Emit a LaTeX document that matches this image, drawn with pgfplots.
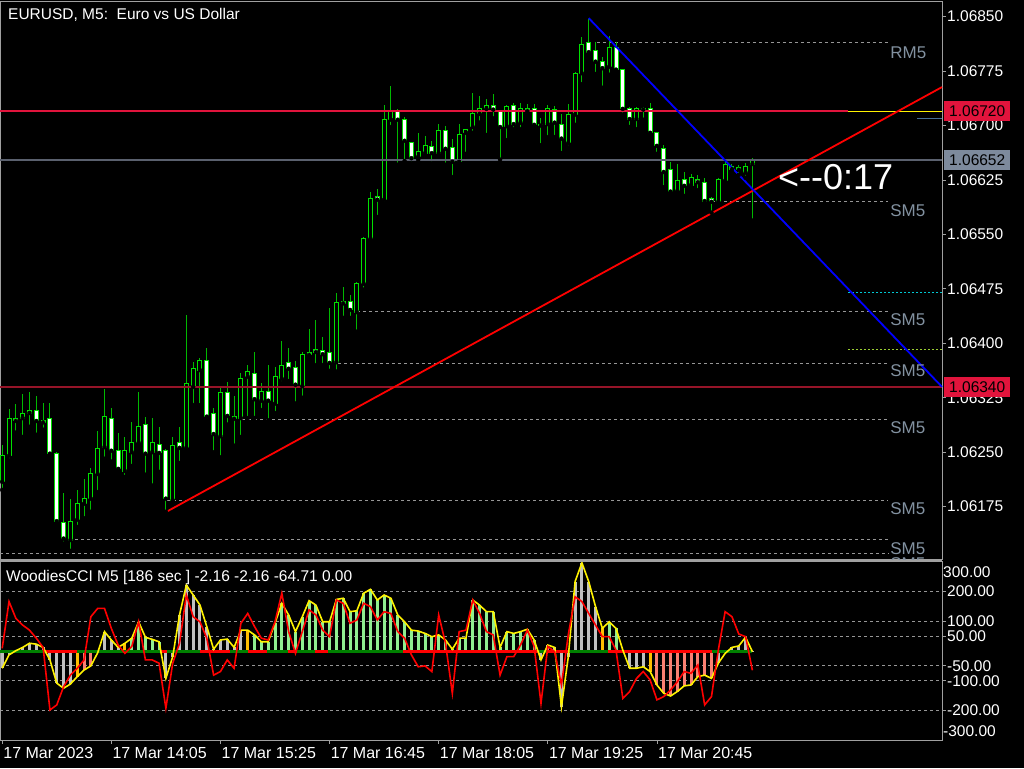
\documentclass[border=0pt]{standalone}
\usepackage{fontspec}
\setmainfont{Liberation Sans}
\usepackage{pgfplots}
\usepackage{pgfplotstable}
\pgfplotsset{compat=1.18}

\definecolor{cwick}{RGB}{0,185,0}
\definecolor{cedge}{RGB}{0,225,0}
\definecolor{crim}{RGB}{225,20,60}
\definecolor{dred}{RGB}{150,20,40}
\definecolor{bidgray}{RGB}{90,96,110}
\definecolor{bidbox}{RGB}{125,138,156}
\definecolor{dotgray}{RGB}{150,150,150}
\definecolor{smlabel}{RGB}{130,145,160}
\definecolor{framec}{RGB}{160,160,160}
\definecolor{hgray}{RGB}{192,192,192}
\definecolor{hgreen}{RGB}{144,238,144}
\definecolor{hsalmon}{RGB}{250,128,114}
\definecolor{hgold}{RGB}{255,190,0}
\definecolor{zgreen}{RGB}{0,128,0}
\definecolor{sblue}{RGB}{70,110,150}
\definecolor{ygreen}{RGB}{154,205,50}
\definecolor{cyanl}{RGB}{0,200,210}

\pgfplotsset{
  wick/.style={only marks, mark=none, forget plot,
    error bars/.cd, y dir=plus, y explicit,
    draw error bar/.code 2 args={\draw[cwick, line width=1pt] ##1 -- ##2;}},
  body/.style={only marks, mark=none, forget plot,
    error bars/.cd, y dir=plus, y explicit,
    draw error bar/.code 2 args={%
      \path ##1 coordinate (cbA); \path ##2 coordinate (cbB);
      \filldraw[draw=cedge, fill=#1, line width=1pt] ([xshift=-2pt]cbA) rectangle ([xshift=2pt]cbB);}},
}

\pgfplotstableread{
i o h l c t
0 1.06209 1.06260 1.06198 1.06245 1
1 1.06245 1.06310 1.06239 1.06296 1
2 1.06297 1.06317 1.06277 1.06293 0
3 1.06297 1.06330 1.06271 1.06304 1
4 1.06304 1.06333 1.06285 1.06307 1
5 1.06308 1.06328 1.06274 1.06293 0
6 1.06293 1.06318 1.06281 1.06291 0
7 1.06296 1.06318 1.06246 1.06248 0
8 1.06248 1.06250 1.06150 1.06155 0
9 1.06153 1.06194 1.06124 1.06131 0
10 1.06129 1.06186 1.06114 1.06155 1
11 1.06157 1.06198 1.06147 1.06180 1
12 1.06179 1.06213 1.06159 1.06186 1
13 1.06186 1.06228 1.06168 1.06221 1
14 1.06220 1.06279 1.06195 1.06255 1
15 1.06257 1.06337 1.06241 1.06299 1
16 1.06296 1.06311 1.06237 1.06252 0
17 1.06252 1.06277 1.06223 1.06227 0
18 1.06224 1.06271 1.06216 1.06252 1
19 1.06250 1.06292 1.06231 1.06264 1
20 1.06263 1.06333 1.06259 1.06286 1
21 1.06288 1.06299 1.06219 1.06248 0
22 1.06250 1.06297 1.06204 1.06263 1
23 1.06261 1.06285 1.06223 1.06249 0
24 1.06252 1.06255 1.06168 1.06186 0
25 1.06184 1.06271 1.06182 1.06259 1
26 1.06263 1.06285 1.06235 1.06256 0
27 1.06256 1.06439 1.06254 1.06344 1
28 1.06340 1.06374 1.06315 1.06365 1
29 1.06363 1.06380 1.06315 1.06377 1
30 1.06376 1.06394 1.06297 1.06299 0
31 1.06303 1.06311 1.06250 1.06275 0
32 1.06272 1.06341 1.06243 1.06332 1
33 1.06332 1.06347 1.06288 1.06300 0
34 1.06299 1.06328 1.06259 1.06296 0
35 1.06297 1.06359 1.06271 1.06352 1
36 1.06354 1.06370 1.06297 1.06361 1
37 1.06359 1.06388 1.06297 1.06323 0
38 1.06321 1.06345 1.06308 1.06333 1
39 1.06333 1.06370 1.06294 1.06321 0
40 1.06317 1.06367 1.06304 1.06354 1
41 1.06351 1.06403 1.06345 1.06370 1
42 1.06374 1.06394 1.06348 1.06365 0
43 1.06367 1.06376 1.06317 1.06343 0
44 1.06341 1.06388 1.06325 1.06385 1
45 1.06387 1.06420 1.06381 1.06384 0
46 1.06391 1.06432 1.06370 1.06388 0
47 1.06390 1.06409 1.06370 1.06385 0
48 1.06388 1.06449 1.06362 1.06373 0
49 1.06374 1.06469 1.06361 1.06456 1
50 1.06457 1.06478 1.06435 1.06455 0
51 1.06458 1.06467 1.06435 1.06446 0
52 1.06443 1.06485 1.06416 1.06483 1
53 1.06482 1.06547 1.06474 1.06544 1
54 1.06544 1.06609 1.06542 1.06600 1
55 1.06602 1.06613 1.06574 1.06598 0
56 1.06598 1.06728 1.06593 1.06708 1
57 1.06708 1.06755 1.06698 1.06719 1
58 1.06720 1.06723 1.06646 1.06708 0
59 1.06709 1.06712 1.06651 1.06679 0
60 1.06676 1.06677 1.06648 1.06655 0
61 1.06657 1.06690 1.06653 1.06664 1
62 1.06662 1.06686 1.06657 1.06672 1
63 1.06671 1.06679 1.06648 1.06662 0
64 1.06662 1.06702 1.06658 1.06693 1
65 1.06693 1.06699 1.06646 1.06668 0
66 1.06670 1.06682 1.06629 1.06650 0
67 1.06650 1.06702 1.06648 1.06688 1
68 1.06690 1.06695 1.06661 1.06694 1
69 1.06698 1.06745 1.06690 1.06717 1
70 1.06716 1.06741 1.06704 1.06724 1
71 1.06723 1.06737 1.06687 1.06727 1
72 1.06727 1.06744 1.06710 1.06722 0
73 1.06720 1.06722 1.06653 1.06698 0
74 1.06699 1.06728 1.06680 1.06726 1
75 1.06727 1.06731 1.06695 1.06702 0
76 1.06704 1.06731 1.06695 1.06724 1
77 1.06723 1.06730 1.06715 1.06720 0
78 1.06723 1.06730 1.06698 1.06701 0
79 1.06702 1.06710 1.06673 1.06700 0
80 1.06702 1.06728 1.06684 1.06724 1
81 1.06722 1.06727 1.06684 1.06704 0
82 1.06702 1.06716 1.06662 1.06682 0
83 1.06676 1.06730 1.06670 1.06715 1
84 1.06715 1.06774 1.06701 1.06771 1
85 1.06772 1.06822 1.06757 1.06811 1
86 1.06814 1.06847 1.06799 1.06801 0
87 1.06804 1.06815 1.06771 1.06788 0
88 1.06788 1.06795 1.06752 1.06779 0
89 1.06781 1.06823 1.06770 1.06808 1
90 1.06807 1.06815 1.06775 1.06777 0
91 1.06777 1.06778 1.06715 1.06723 0
92 1.06723 1.06726 1.06698 1.06709 0
93 1.06709 1.06726 1.06695 1.06724 1
94 1.06724 1.06726 1.06708 1.06722 0
95 1.06723 1.06731 1.06687 1.06690 0
96 1.06690 1.06691 1.06661 1.06672 0
97 1.06668 1.06673 1.06615 1.06636 0
98 1.06639 1.06650 1.06604 1.06609 0
99 1.06610 1.06647 1.06607 1.06624 1
100 1.06625 1.06636 1.06603 1.06617 0
101 1.06618 1.06633 1.06614 1.06629 1
102 1.06626 1.06632 1.06611 1.06622 0
103 1.06622 1.06628 1.06593 1.06596 0
104 1.06600 1.06601 1.06580 1.06595 0
105 1.06595 1.06628 1.06593 1.06625 1
106 1.06624 1.06650 1.06622 1.06646 1
107 1.06643 1.06647 1.06636 1.06640 0
108 1.06642 1.06646 1.06632 1.06639 0
109 1.06635 1.06648 1.06628 1.06644 1
110 1.06647 1.06655 1.06569 1.06652 1
}\candles

\pgfplotstableread{
i cci turbo col
0 -58 9 0
1 -13 166 0
2 1 110 0
3 12 87 0
4 26 70 0
5 23 43 0
6 12 12 0
7 -30 -198 0
8 -108 -181 0
9 -125 -120 0
10 -111 -81 0
11 -86 -58 3
12 -64 -30 2
13 -50 115 2
14 -6 143 0
15 65 143 0
16 37 76 0
17 12 20 0
18 26 -8 3
19 43 15 1
20 98 98 1
21 46 -30 1
22 39 -30 1
23 31 -41 1
24 -92 -192 0
25 -19 -41 0
26 121 26 0
27 221 188 0
28 188 115 0
29 154 98 0
30 82 43 0
31 6 -81 0
32 37 -69 0
33 40 -30 0
34 12 -58 0
35 70 93 0
36 70 126 3
37 54 82 1
38 31 43 1
39 31 37 1
40 93 98 1
41 160 194 1
42 121 65 1
43 65 -8 1
44 115 65 1
45 169 138 1
46 154 121 1
47 98 70 1
48 98 48 1
49 173 171 1
50 177 160 1
51 132 93 1
52 135 104 1
53 194 160 1
54 207 149 1
55 171 104 1
56 188 132 1
57 177 126 1
58 121 65 1
59 98 43 1
60 70 -13 1
61 67 -53 1
62 59 -50 1
63 48 -69 1
64 54 121 1
65 37 26 1
66 6 -142 1
67 43 65 1
68 43 70 1
69 171 171 1
70 154 126 1
71 132 65 1
72 132 54 1
73 12 -81 1
74 65 -19 1
75 59 -19 1
76 65 20 1
77 73 70 1
78 37 15 1
79 -30 -176 0
80 20 15 0
81 12 -2 0
82 -187 -114 0
83 -20 54 0
84 233 182 0
85 296 166 0
86 233 126 0
87 149 87 0
88 76 48 3
89 98 48 1
90 76 3 1
91 3 -159 1
92 -58 -136 0
93 -58 -92 0
94 -53 -69 0
95 -69 -97 3
96 -114 -164 2
97 -142 -153 2
98 -151 -131 2
99 -136 -103 2
100 -117 -69 2
101 -114 -75 2
102 -86 -47 2
103 -81 -181 2
104 -92 -153 2
105 -41 3 0
106 -8 132 0
107 12 115 0
108 17 57 0
109 46 48 0
110 -2.16 -64.71 0
}\cci

\begin{document}
\begin{tikzpicture}
\path[use as bounding box] (0pt,0pt) rectangle (1024pt,768pt);
\fill[black] (0pt,0pt) rectangle (1024pt,768pt);

% ---------------- main price panel ----------------
\begin{axis}[
  at={(0pt,208pt)}, anchor=south west, scale only axis,
  width=942pt, height=558pt,
  xmin=-0.3226, xmax=137.8,
  ymin=1.061015, ymax=1.068702,
  clip=false,
  axis background/.style={fill=black},
  axis line style={draw=framec, line width=1pt},
  xtick=\empty,
  ytick={1.06175,1.06250,1.06325,1.06400,1.06475,1.06550,1.06625,1.06700,1.06775,1.06850},
  yticklabels={1.06175,1.06250,1.06325,1.06400,1.06475,1.06550,1.06625,1.06700,1.06775,1.06850},
  ytick pos=right, yticklabel pos=right,
  tick align=outside, major tick length=4pt,
  tick style={draw=framec, line width=0.8pt},
  yticklabel style={font=\fontsize{15.5}{18}\selectfont, text=white, anchor=west, inner sep=0pt, xshift=1pt},
]
% dotted support/resistance lines
\addplot[dotgray, line width=0.8pt, dash pattern=on 3pt off 3pt] coordinates {(87.2,1.06814) (129.9,1.06814)};
\addplot[dotgray, line width=0.8pt, dash pattern=on 3pt off 3pt] coordinates {(104.1,1.06596) (129.9,1.06596)};
\addplot[dotgray, line width=0.8pt, dash pattern=on 3pt off 3pt] coordinates {(52.0,1.06444) (129.9,1.06444)};
\addplot[dotgray, line width=0.8pt, dash pattern=on 3pt off 3pt] coordinates {(49.2,1.06373) (129.9,1.06373)};
\addplot[dotgray, line width=0.8pt, dash pattern=on 3pt off 3pt] coordinates {(35.2,1.06295) (129.9,1.06295)};
\addplot[dotgray, line width=0.8pt, dash pattern=on 3pt off 3pt] coordinates {(24.2,1.06184) (129.9,1.06184)};
\addplot[dotgray, line width=0.8pt, dash pattern=on 3pt off 3pt] coordinates {(10.7,1.06130) (129.9,1.06130)};
\addplot[dotgray, line width=0.8pt, dash pattern=on 3pt off 3pt] coordinates {(-0.32,1.06111) (129.9,1.06111)};
% candles
\addplot[wick] table[x=i, y=l, y error expr=\thisrow{h}-\thisrow{l}] {\candles};
\addplot[restrict expr to domain={\thisrow{t}}{0.5:1.5}, body=black] table[x=i, y=o, y error expr=\thisrow{c}-\thisrow{o}] {\candles};
\addplot[restrict expr to domain={\thisrow{t}}{-0.5:0.5}, body=white] table[x=i, y=c, y error expr=\thisrow{o}-\thisrow{c}] {\candles};
% horizontal lines
\addplot[crim, line width=1.3pt] coordinates {(-0.32,1.06720) (124.0,1.06720)};
\addplot[yellow, line width=1pt] coordinates {(124.0,1.06720) (137.8,1.06720)};
\addplot[dred, line width=1.3pt] coordinates {(-0.32,1.06340) (137.8,1.06340)};
\addplot[bidgray, line width=1.8pt] coordinates {(-0.32,1.06652) (137.8,1.06652)};
\addplot[sblue, line width=1pt] coordinates {(134.1,1.06710) (137.8,1.06710)};
\addplot[cyanl, line width=0.8pt, dash pattern=on 2pt off 2pt] coordinates {(124.0,1.06470) (137.8,1.06470)};
\addplot[ygreen, line width=0.8pt, dash pattern=on 2pt off 2pt] coordinates {(124.0,1.06391) (137.8,1.06391)};
% trend lines
\addplot[red, line width=1.8pt] coordinates {(24.1,1.06168) (137.8,1.06753)};
\addplot[blue, line width=1.8pt] coordinates {(86.0,1.06848) (137.8,1.06340)};
% labels of levels
\node[anchor=base west, inner sep=0pt, text=smlabel, font=\fontsize{17}{20}\selectfont] at (axis cs:130.2,1.067924) {RM5};
\node[anchor=base west, inner sep=0pt, text=smlabel, font=\fontsize{17}{20}\selectfont] at (axis cs:130.2,1.065745) {SM5};
\node[anchor=base west, inner sep=0pt, text=smlabel, font=\fontsize{17}{20}\selectfont] at (axis cs:130.2,1.064243) {SM5};
\node[anchor=base west, inner sep=0pt, text=smlabel, font=\fontsize{17}{20}\selectfont] at (axis cs:130.2,1.063541) {SM5};
\node[anchor=base west, inner sep=0pt, text=smlabel, font=\fontsize{17}{20}\selectfont] at (axis cs:130.2,1.062751) {SM5};
\node[anchor=base west, inner sep=0pt, text=smlabel, font=\fontsize{17}{20}\selectfont] at (axis cs:130.2,1.061645) {SM5};
\node[anchor=base west, inner sep=0pt, text=smlabel, font=\fontsize{17}{20}\selectfont] at (axis cs:130.2,1.061084) {SM5};
\node[anchor=base west, inner sep=0pt, text=smlabel, font=\fontsize{17}{20}\selectfont] at (axis cs:130.2,1.060891) {SM5};
% countdown
\node[anchor=base west, inner sep=0pt, text=white, font=\fontsize{36}{40}\selectfont] at (axis cs:113.75,1.066113) {<-{}-0:17};
% price boxes
\node[anchor=west, fill=crim, text=black, inner xsep=5pt, inner ysep=0pt, minimum height=20pt, xshift=2pt, font=\fontsize{15.5}{18}\selectfont] at (axis cs:137.8,1.06720) {1.06720};
\node[anchor=west, fill=bidbox, text=black, inner xsep=5pt, inner ysep=0pt, minimum height=20pt, xshift=2pt, font=\fontsize{15.5}{18}\selectfont] at (axis cs:137.8,1.06652) {1.06652};
\node[anchor=west, fill=crim, text=black, inner xsep=5pt, inner ysep=0pt, minimum height=20pt, xshift=2pt, font=\fontsize{15.5}{18}\selectfont] at (axis cs:137.8,1.06340) {1.06340};
\end{axis}

% ---------------- indicator panel ----------------
\begin{axis}[
  at={(0pt,28pt)}, anchor=south west, scale only axis,
  width=942pt, height=178pt,
  xmin=-0.3226, xmax=137.8, ymin=-298.7, ymax=298.7,
  axis background/.style={fill=black},
  axis line style={draw=framec, line width=1pt},
  xtick={0,16,32,48,64,80,96},
  xticklabels={17 Mar 2023,17 Mar 14:05,17 Mar 15:25,17 Mar 16:45,17 Mar 18:05,17 Mar 19:25,17 Mar 20:45},
  xtick pos=left, ytick pos=right, yticklabel pos=right,
  ytick={-200,-100,-50,50,100,200},
  yticklabels={-200.00,-100.00,-50.00,50.00,100.00,200.00},
  extra y ticks={-268,265},
  extra y tick labels={-300.00,300.00},
  extra y tick style={grid=none, major tick length=0pt},
  ymajorgrids=true,
  major grid style={draw=dotgray, line width=0.8pt, dash pattern=on 3pt off 3pt},
  tick align=outside, major tick length=4pt,
  tick style={draw=framec, line width=0.8pt},
  yticklabel style={font=\fontsize{15.5}{18}\selectfont, text=white, anchor=west, inner sep=0pt, xshift=1pt},
  xticklabel style={font=\fontsize{16}{19}\selectfont, text=white, anchor=north west, inner sep=0pt, xshift=1pt, yshift=-3pt},
]
\addplot[ycomb, hgray, line width=3pt, restrict expr to domain={\thisrow{col}}{-0.5:0.5}] table[x=i, y=cci] {\cci};
\addplot[ycomb, hgreen, line width=3pt, restrict expr to domain={\thisrow{col}}{0.5:1.5}] table[x=i, y=cci] {\cci};
\addplot[ycomb, hsalmon, line width=3pt, restrict expr to domain={\thisrow{col}}{1.5:2.5}] table[x=i, y=cci] {\cci};
\addplot[ycomb, hgold, line width=3pt, restrict expr to domain={\thisrow{col}}{2.5:3.5}] table[x=i, y=cci] {\cci};
\addplot[zgreen, line width=3pt] coordinates {(-0.32,0) (110,0)};
\addplot[red, line width=3pt, unbounded coords=jump] coordinates {(6.3,0) (11.0,0) (11.0,nan) (23.1,0) (24.2,0) (24.2,nan) (29.0,0) (33.4,0) (33.4,nan) (36.0,0) (38.8,0) (38.8,nan) (41.9,0) (43.2,0) (43.2,nan) (45.9,0) (47.8,0) (47.8,nan) (58.8,0) (78.6,0) (78.6,nan) (79.9,0) (83.0,0) (83.0,nan) (88.8,0) (104.1,0)};
\addplot[yellow, line width=1.6pt] table[x=i, y=cci] {\cci};
\addplot[red, line width=1.6pt] table[x=i, y=turbo] {\cci};
\end{axis}

\draw[framec, line width=2pt] (0pt,207pt) -- (942pt,207pt);
\node[anchor=base west, inner sep=0pt, text=white, font=\fontsize{15.5}{18}\selectfont] at (8pt,748.7pt) {EURUSD, M5:\ \ Euro vs US Dollar};
\node[anchor=base west, inner sep=0pt, text=white, font=\fontsize{15.5}{18}\selectfont] at (6pt,186.3pt) {WoodiesCCI M5 [186 sec ] -2.16 -2.16 -64.71 0.00};
\end{tikzpicture}
\end{document}
